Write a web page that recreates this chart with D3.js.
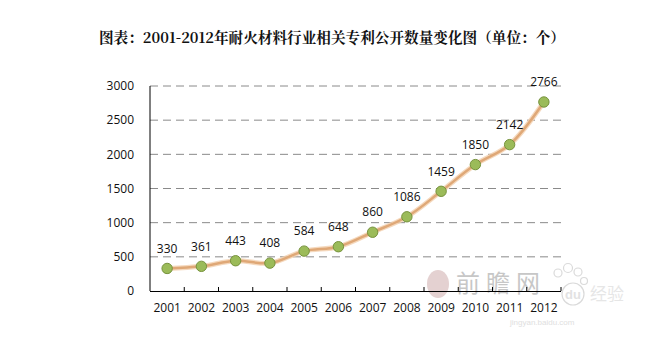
<!DOCTYPE html>
<html>
<head>
<meta charset="utf-8">
<script src="https://cdn.jsdelivr.net/npm/d3@7"></script>
<style>
  html, body { margin: 0; padding: 0; background: #fff; }
  svg { display: block; }
</style>
</head>
<body>
<svg id="chart" width="661" height="339"></svg>
<script>
// Patent publication counts in the refractory materials industry, 2001–2012
const years = ["2001","2002","2003","2004","2005","2006","2007","2008","2009","2010","2011","2012"];
const patents = [330, 361, 443, 408, 584, 648, 860, 1086, 1459, 1850, 2142, 2766];
const yTicks = [0, 500, 1000, 1500, 2000, 2500, 3000];
const titleText = "图表：2001-2012年耐火材料行业相关专利公开数量变化图（单位：个）";

const svg = d3.select("#chart");
const plot = { left: 150, right: 561, top: 86, bottom: 291 };

const x = d3.scaleBand().domain(years).range([plot.left, plot.right]).padding(0);
const y = d3.scaleLinear().domain([0, 3000]).range([plot.bottom, plot.top]);

const sans = "'Open Sans', 'Noto Sans', 'DejaVu Sans', sans-serif";

// Title
svg.append("text")
  .attr("x", 332).attr("y", 43)
  .attr("text-anchor", "middle")
  .attr("font-family", "'Noto Serif CJK SC', 'Noto Sans CJK SC', serif")
  .attr("font-weight", "bold")
  .attr("font-size", 14.5)
  .attr("textLength", 466)
  .attr("lengthAdjust", "spacingAndGlyphs")
  .attr("fill", "#111")
  .text(titleText);

// Dashed horizontal gridlines
svg.append("g")
  .selectAll("line")
  .data(yTicks.filter(d => d > 0))
  .join("line")
  .attr("x1", plot.left).attr("x2", plot.right)
  .attr("y1", d => y(d)).attr("y2", d => y(d))
  .attr("stroke", "#8a8a8a")
  .attr("stroke-width", 1)
  .attr("stroke-dasharray", "8,5");

// Faint site marks in the lower right
const wm = svg.append("g").attr("pointer-events", "none");
wm.append("ellipse")
  .attr("cx", 438).attr("cy", 284).attr("rx", 11).attr("ry", 14)
  .attr("fill", "#c9a3a3").attr("opacity", 0.5);
wm.append("text")
  .attr("x", 456).attr("y", 292)
  .attr("font-family", "'Noto Sans CJK SC', sans-serif")
  .attr("font-size", 24).attr("letter-spacing", 6)
  .attr("fill", "#9a9a9a").attr("opacity", 0.55)
  .text("前瞻网");
// paw outline
const paw = wm.append("g").attr("fill", "none").attr("stroke", "#dadada").attr("stroke-width", 1.2);
[[558, 273, 4], [568, 268, 4.5], [578, 272, 4], [584, 281, 3.5]].forEach(([cx, cy, r]) =>
  paw.append("circle").attr("cx", cx).attr("cy", cy).attr("r", r));
paw.append("circle").attr("cx", 573).attr("cy", 294).attr("r", 11);
wm.append("text")
  .attr("x", 573).attr("y", 299)
  .attr("text-anchor", "middle")
  .attr("font-family", "Arial, 'Liberation Sans', sans-serif")
  .attr("font-size", 13).attr("font-weight", "bold")
  .attr("fill", "#e2e2e2")
  .text("du");
wm.append("text")
  .attr("x", 590).attr("y", 300)
  .attr("font-family", "'Noto Sans CJK SC', sans-serif")
  .attr("font-size", 17)
  .attr("fill", "#e6e6e6")
  .text("经验");
wm.append("text")
  .attr("x", 510).attr("y", 325)
  .attr("font-family", "Arial, 'Liberation Sans', sans-serif")
  .attr("font-size", 8)
  .attr("fill", "#e0e0e0")
  .text("jingyan.baidu.com");

// Y axis line and labels
svg.append("line")
  .attr("x1", plot.left).attr("x2", plot.left)
  .attr("y1", plot.top).attr("y2", plot.bottom)
  .attr("stroke", "#000").attr("stroke-width", 1);

svg.append("g")
  .selectAll("text")
  .data(yTicks)
  .join("text")
  .attr("x", 134).attr("y", d => y(d))
  .attr("dy", "0.35em")
  .attr("text-anchor", "end")
  .attr("font-family", sans).attr("font-size", 12)
  .attr("fill", "#111")
  .text(d => d);

// X axis with inward ticks at category boundaries
const xAxis = d3.axisBottom(x).tickSize(0).tickPadding(12);
const gx = svg.append("g").attr("transform", `translate(0,${plot.bottom})`).call(xAxis);
gx.select(".domain").attr("stroke", "#000").attr("stroke-width", 1)
  .attr("d", `M${plot.left},0.5H${plot.right}`);
gx.selectAll("text")
  .attr("font-family", sans).attr("font-size", 12).attr("fill", "#111");

svg.append("g")
  .selectAll("line")
  .data(years)
  .join("line")
  .attr("x1", d => x(d) + x.bandwidth())
  .attr("x2", d => x(d) + x.bandwidth())
  .attr("y1", plot.bottom - 4).attr("y2", plot.bottom)
  .attr("stroke", "#000").attr("stroke-width", 1);

// Smoothed line
const pts = years.map((yr, i) => ({ yr, v: patents[i] }));
const line = d3.line()
  .x(d => x(d.yr) + x.bandwidth() / 2)
  .y(d => y(d.v))
  .curve(d3.curveCatmullRom.alpha(0.5));

svg.append("path")
  .datum(pts)
  .attr("d", line)
  .attr("fill", "none")
  .attr("stroke", "#f2cfae")
  .attr("stroke-width", 5)
  .attr("stroke-linejoin", "round")
  .attr("opacity", 0.8);
svg.append("path")
  .datum(pts)
  .attr("d", line)
  .attr("fill", "none")
  .attr("stroke", "#dfa877")
  .attr("stroke-width", 2.5)
  .attr("stroke-linejoin", "round");

// Markers
svg.append("g")
  .selectAll("circle")
  .data(pts)
  .join("circle")
  .attr("cx", d => x(d.yr) + x.bandwidth() / 2)
  .attr("cy", d => y(d.v))
  .attr("r", 5.2)
  .attr("fill", "#9bbb59")
  .attr("stroke", "#76923c")
  .attr("stroke-width", 1);

// Value labels
svg.append("g")
  .selectAll("text")
  .data(pts)
  .join("text")
  .attr("x", d => x(d.yr) + x.bandwidth() / 2)
  .attr("y", d => y(d.v) - 20)
  .attr("dy", "0.35em")
  .attr("text-anchor", "middle")
  .attr("font-family", sans).attr("font-size", 12)
  .attr("fill", "#111")
  .text(d => d.v);
</script>
</body>
</html>
